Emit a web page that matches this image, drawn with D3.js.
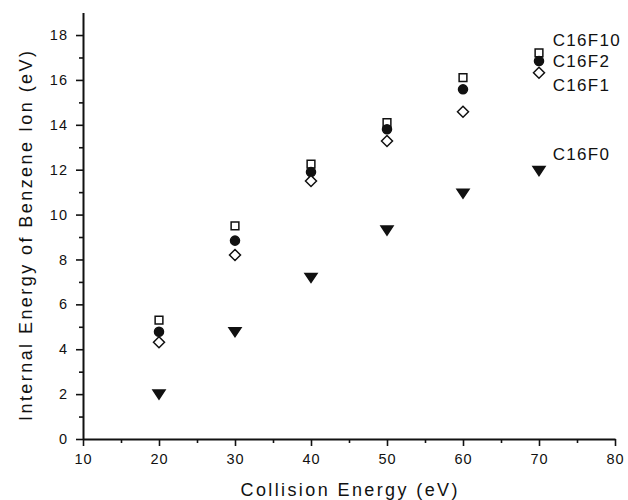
<!DOCTYPE html>
<html>
<head>
<meta charset="utf-8">
<script src="https://cdn.jsdelivr.net/npm/d3@7"></script>
<style>
  body { margin: 0; background: #fff; }
  text { font-family: "Liberation Sans", Arial, sans-serif; fill: #111; }
</style>
</head>
<body>
<div id="chart"></div>
<script>
// collision energies (eV)
var energies = [20, 30, 40, 50, 60, 70];

// internal energy of benzene ion (eV), one array per compound
var c16f10 = [5.3, 9.5, 12.25, 14.1, 16.1, 17.2];
var c16f2 = [4.78, 8.84, 11.9, 13.8, 15.58, 16.84];
var c16f1 = [4.31, 8.2, 11.5, 13.28, 14.58, 16.32];
var c16f0 = [2.0, 4.78, 7.2, 9.31, 10.95, 11.96];

var seriesNames = ["C16F10", "C16F2", "C16F1", "C16F0"];
var seriesValues = [c16f10, c16f2, c16f1, c16f0];
var seriesSymbols = ["square", "circle", "diamond", "triangle"];
// where each name sits, in y units
var labelLevels = [17.8, 16.84, 15.8, 12.7];

var xTicks = [10, 20, 30, 40, 50, 60, 70, 80];
var yTicks = [0, 2, 4, 6, 8, 10, 12, 14, 16, 18];

var w = 628,
    h = 500,
    svg = d3.select("#chart")
    .append("svg")
    .attr("width", w)
    .attr("height", h);

var x = d3.scaleLinear().domain([10, 80]).range([83, 615]);
var y = d3.scaleLinear().domain([0, 19]).range([439, 12.6]);

// minor ticks first (short), then major ticks with labels
svg.append("g")
    .attr("transform", "translate(0," + y(0) + ")")
    .call(d3.axisBottom(x).tickValues(d3.range(15, 80, 10)).tickSize(4).tickFormat(""))
    .call(function(g) { g.select(".domain").remove(); });
svg.append("g")
    .attr("transform", "translate(" + x(10) + ",0)")
    .call(d3.axisLeft(y).tickValues(d3.range(1, 19, 2)).tickSize(4).tickFormat(""))
    .call(function(g) { g.select(".domain").remove(); });

svg.append("g")
    .attr("transform", "translate(0," + y(0) + ")")
    .call(d3.axisBottom(x).tickValues(xTicks).tickSize(7).tickPadding(8).tickSizeOuter(0));
svg.append("g")
    .attr("transform", "translate(" + x(10) + ",0)")
    .call(d3.axisLeft(y).tickValues(yTicks).tickSize(7).tickPadding(8).tickSizeOuter(0));

svg.selectAll(".tick line").attr("stroke", "#111").attr("stroke-width", 1.6);
svg.selectAll(".domain").attr("stroke", "#111").attr("stroke-width", 2);
svg.selectAll(".tick text")
    .style("font-family", "'Liberation Sans', Arial, sans-serif")
    .style("font-size", "14.5px")
    .style("letter-spacing", "1px")
    .attr("fill", "#111");

// axis titles, stretched like the scanned original
svg.append("text")
    .attr("x", (x(10) + x(80)) / 2)
    .attr("y", 496)
    .attr("text-anchor", "middle")
    .attr("textLength", 217)
    .attr("lengthAdjust", "spacing")
    .style("font-size", "18px")
    .text("Collision Energy (eV)");
svg.append("text")
    .attr("transform", "translate(32,236) rotate(-90)")
    .attr("text-anchor", "middle")
    .attr("textLength", 370)
    .attr("lengthAdjust", "spacing")
    .style("font-size", "18px")
    .text("Internal Energy of Benzene Ion (eV)");

// symbol shapes
var shapes = {
    square: d3.symbol().type(d3.symbolSquare).size(60),
    circle: d3.symbol().type(d3.symbolCircle).size(64),
    diamond: function() { return "M0,-5.5L5.5,0L0,5.5L-5.5,0Z"; },
    triangle: function() { return "M-6,-4L6,-4L0,5Z"; }
};
var filled = { square: false, circle: true, diamond: false, triangle: true };

seriesValues.forEach(function(vals, i) {
    var sym = seriesSymbols[i];
    svg.append("g").selectAll("path")
        .data(energies.map(function(e, j) { return { e: e, v: vals[j] }; }))
        .enter().append("path")
        .attr("d", shapes[sym])
        .attr("transform", function(d) { return "translate(" + x(d.e) + "," + y(d.v) + ")"; })
        .attr("fill", filled[sym] ? "#111" : "#fff")
        .attr("stroke", "#111")
        .attr("stroke-width", 1.5);
});

// series names at the right
svg.selectAll(".series-label")
    .data(seriesNames)
    .enter().append("text")
    .attr("class", "series-label")
    .attr("x", x(71.8))
    .attr("y", function(d, i) { return y(labelLevels[i]); })
    .attr("dy", "0.36em")
    .style("font-size", "17px")
    .style("letter-spacing", "1.3px")
    .text(function(d) { return d; });
</script>
</body>
</html>
